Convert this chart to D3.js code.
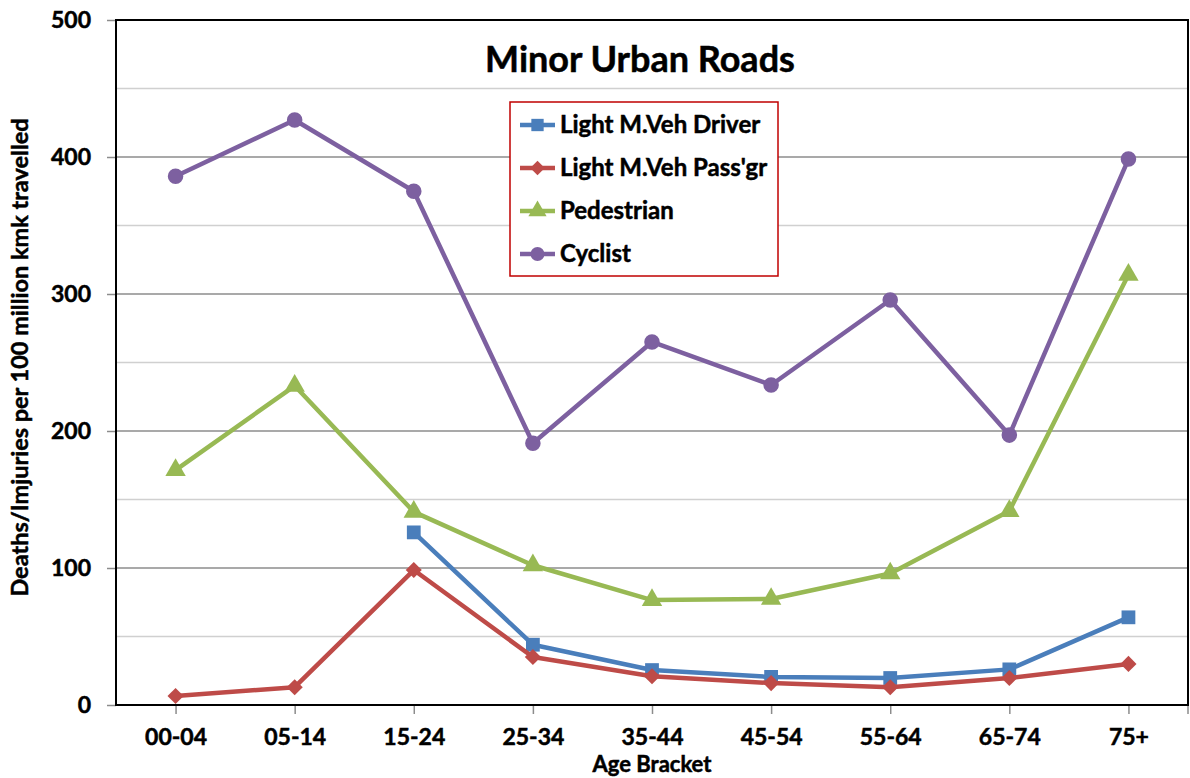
<!DOCTYPE html>
<html>
<head>
<meta charset="utf-8">
<script src="https://cdn.jsdelivr.net/npm/d3@7"></script>
<style>
  body { margin: 0; background: #fff; }
  text { font-family: Lato, "Open Sans", sans-serif; font-weight: bold; fill: #000; stroke: #000; stroke-width: 0.5px; }
</style>
</head>
<body>
<div id="chart"></div>
<script>
const ageBrackets = ["00-04","05-14","15-24","25-34","35-44","45-54","55-64","65-74","75+"];
const driverValues = [null, null, 126, 44, 25.5, 20.5, 19.7, 26, 64];
const passengerValues = [6.6, 13, 98.5, 35, 21, 16, 13, 19.7, 30];
const pedestrianValues = [171.5, 233, 141, 102, 76.6, 77.4, 96, 141.6, 314];
const cyclistValues = [386, 427, 375, 191, 265, 233.6, 295.6, 197, 398.5];
const seriesNames = ["Light M.Veh Driver", "Light M.Veh Pass'gr", "Pedestrian", "Cyclist"];
const yTicks = [0, 100, 200, 300, 400, 500];

const width = 1190, height = 778;
const plotLeft = 116, plotRight = 1188, plotTop = 20, plotBottom = 705;

// diamond drawn as a square turned 45 degrees, like the spreadsheet marker
const series = [
  {name: seriesNames[0], values: driverValues, color: "#4a7ebb", shape: d3.symbolSquare, size: 190, rot: 0},
  {name: seriesNames[1], values: passengerValues, color: "#be4b48", shape: d3.symbolSquare, size: 130, rot: 45},
  {name: seriesNames[2], values: pedestrianValues, color: "#98b954", shape: d3.symbolTriangle, size: 180, rot: 0},
  {name: seriesNames[3], values: cyclistValues, color: "#7d60a0", shape: d3.symbolCircle, size: 190, rot: 0}
];

const svg = d3.select("#chart").append("svg")
  .attr("width", width).attr("height", height);

/*----- scales -----*/
const x = d3.scalePoint().domain(ageBrackets).range([plotLeft, plotRight]).padding(0.5);
const y = d3.scaleLinear().domain([0, 500]).range([plotBottom, plotTop]);

/*----- gridlines -----*/
const grid_g = svg.append("g");
grid_g.selectAll("line.minor")
  .data(d3.range(50, 500, 100))
  .enter().append("line")
  .attr("x1", plotLeft).attr("x2", plotRight)
  .attr("y1", d => y(d)).attr("y2", d => y(d))
  .attr("stroke", "#d0d0d0").attr("stroke-width", 1.5);
grid_g.selectAll("line.major")
  .data(yTicks.slice(1, -1))
  .enter().append("line")
  .attr("x1", plotLeft).attr("x2", plotRight)
  .attr("y1", d => y(d)).attr("y2", d => y(d))
  .attr("stroke", "#8c8c8c").attr("stroke-width", 1.5);

/*----- axes -----*/
const yAxis = svg.append("g")
  .attr("transform", "translate(" + plotLeft + ",0)")
  .call(d3.axisLeft(y).tickValues(yTicks).tickSize(9).tickPadding(16));
yAxis.select(".domain").remove();
yAxis.selectAll(".tick line").attr("stroke", "#8c8c8c").attr("stroke-width", 1.5);
yAxis.selectAll(".tick text").style("font-size", "23px");

const xAxis = svg.append("g")
  .attr("transform", "translate(0," + plotBottom + ")")
  .call(d3.axisBottom(x).tickSize(9).tickPadding(15));
xAxis.select(".domain").remove();
xAxis.selectAll(".tick line").attr("stroke", "#8c8c8c").attr("stroke-width", 1.5);
xAxis.selectAll(".tick text").style("font-size", "23px");
svg.append("line")
  .attr("x1", plotRight).attr("x2", plotRight).attr("y1", plotBottom).attr("y2", plotBottom + 9)
  .attr("stroke", "#8c8c8c").attr("stroke-width", 1.5);

// plot border
svg.append("rect")
  .attr("x", plotLeft).attr("y", plotTop)
  .attr("width", plotRight - plotLeft).attr("height", plotBottom - plotTop)
  .attr("fill", "none").attr("stroke", "#000").attr("stroke-width", 2);

/*----- series -----*/
const line = d3.line()
  .defined(d => d != null)
  .x((d, i) => x(ageBrackets[i]))
  .y(d => y(d));

const series_g = svg.append("g");
series.forEach(s => {
  series_g.append("path")
    .attr("d", line(s.values))
    .attr("fill", "none")
    .attr("stroke", s.color)
    .attr("stroke-width", 4.5)
    .attr("stroke-linejoin", "round");
  series_g.selectAll(null)
    .data(s.values.map((v, i) => ({v: v, cat: ageBrackets[i]})).filter(d => d.v != null))
    .enter().append("path")
    .attr("d", d3.symbol().type(s.shape).size(s.size))
    .attr("transform", d => "translate(" + x(d.cat) + "," + y(d.v) + ") rotate(" + s.rot + ")")
    .attr("fill", s.color);
});

/*----- title -----*/
svg.append("text")
  .attr("x", 640).attr("y", 72)
  .attr("text-anchor", "middle")
  .style("font-size", "36px")
  .text("Minor Urban Roads");

/*----- axis titles -----*/
svg.append("text")
  .attr("transform", "translate(28," + ((plotTop + plotBottom) / 2 - 5) + ") rotate(-90)")
  .attr("text-anchor", "middle")
  .style("font-size", "23.5px")
  .text("Deaths/Imjuries per 100 million kmk travelled");

svg.append("text")
  .attr("x", (plotLeft + plotRight) / 2).attr("y", 772)
  .attr("text-anchor", "middle")
  .style("font-size", "22px")
  .text("Age Bracket");

/*----- legend -----*/
const legend_g = svg.append("g");
legend_g.append("rect")
  .attr("x", 510).attr("y", 102).attr("width", 268).attr("height", 174)
  .attr("fill", "#fff").attr("stroke", "#c00000").attr("stroke-width", 1.5);

const legendItems = legend_g.selectAll("g.item")
  .data(series)
  .enter().append("g")
  .attr("transform", (d, i) => "translate(520," + (125 + i * 43) + ")");
legendItems.append("line")
  .attr("x1", 0).attr("x2", 35).attr("y1", 0).attr("y2", 0)
  .attr("stroke", d => d.color).attr("stroke-width", 4.5);
legendItems.append("path")
  .attr("d", d => d3.symbol().type(d.shape).size(d.size * 0.8)())
  .attr("transform", d => "translate(17.5,0) rotate(" + d.rot + ")")
  .attr("fill", d => d.color);
legendItems.append("text")
  .attr("x", 40).attr("y", 8)
  .style("font-size", "24px")
  .text(d => d.name);
</script>
</body>
</html>
